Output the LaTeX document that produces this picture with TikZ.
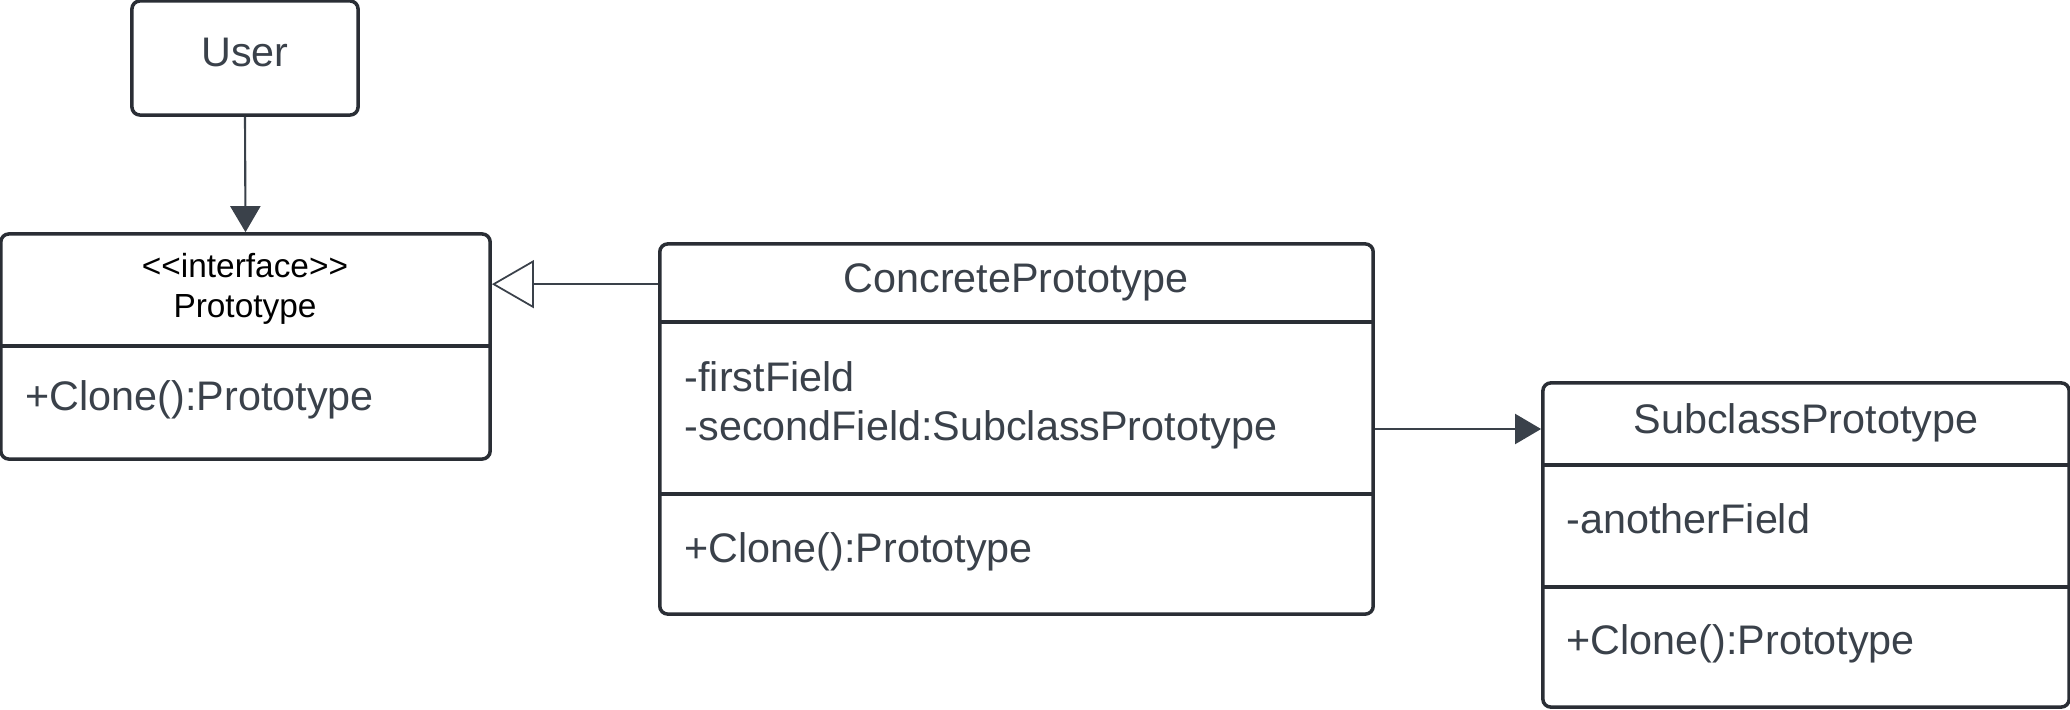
\documentclass[tikz,border=0pt]{standalone}
\usepackage{fontspec}
\setmainfont{Liberation Sans}
\usetikzlibrary{arrows.meta}
\definecolor{ink}{HTML}{3A414A}
\definecolor{edge}{HTML}{2A2E35}
\begin{document}
\begin{tikzpicture}[x=0.01cm, y=-0.01cm,
  classbox/.style={draw=edge, line width=1pt, rounded corners=0.8mm, inner sep=0},
  sep/.style={draw=edge, line width=1pt},
  txt/.style={inner sep=0, text=ink, font=\fontsize{11.75}{14}\selectfont},
  small/.style={inner sep=0, text=black, font=\fontsize{9.5}{12}\selectfont},
  assoc/.style={draw=ink, line width=0.6pt, -{Triangle[length=2.6mm, width=3mm]}},
  inherit/.style={draw=ink, line width=0.6pt, -{Triangle[open, length=4.2mm, width=4.8mm, line width=0.5pt]}}]
\useasboundingbox (0,0) rectangle (2070,709);
\node[classbox, minimum width=2.26cm, minimum height=1.14cm] (user) at (245,58) {};
\node[txt, anchor=base] (usertxt) at (245,67) {User};
\node[classbox, minimum width=4.89cm, minimum height=2.25cm] (proto) at (245.5,346.5) {};
\draw[sep] (1,346) -- (490,346);
\node[small, anchor=base] (stereo) at (245,277) {<{}<interface>{}>};
\node[small, anchor=base] (prototxt) at (245,317) {Prototype};
\node[txt, anchor=base west] (protoop) at (25,410) {+Clone():Prototype};
\node[classbox, minimum width=7.13cm, minimum height=3.70cm] (concrete) at (1016.5,429) {};
\draw[sep] (660,322) -- (1373,322) (660,494) -- (1373,494);
\node[txt, anchor=base] (concretetxt) at (1016,292) {ConcretePrototype};
\node[txt, anchor=base west] (first) at (684,391) {-firstField};
\node[txt, anchor=base west] (second) at (684,440) {-secondField:SubclassPrototype};
\node[txt, anchor=base west] (concreteop) at (684,562) {+Clone():Prototype};
\node[classbox, minimum width=5.26cm, minimum height=3.24cm] (sub) at (1806,545) {};
\draw[sep] (1543,465) -- (2069,465) (1543,587) -- (2069,587);
\node[txt, anchor=base] (subtxt) at (1806,433) {SubclassPrototype};
\node[txt, anchor=base west] (another) at (1566,533) {-anotherField};
\node[txt, anchor=base west] (subop) at (1566,654) {+Clone():Prototype};
\coordinate (inh) at ([yshift=-0.42cm]concrete.north west);
\draw[assoc] (user.south) -- (proto.north);
\draw[inherit] (inh) -- (inh -| proto.east);
\draw[assoc] (concrete.east) -- (concrete.east -| sub.west);
\end{tikzpicture}
\end{document}
